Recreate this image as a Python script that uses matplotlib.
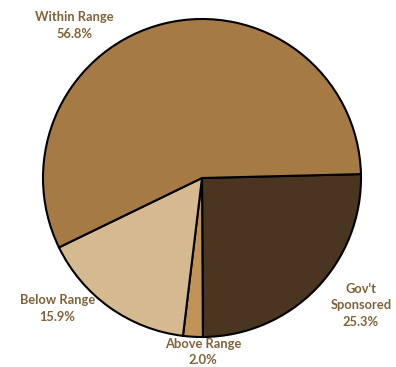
import matplotlib
matplotlib.use("Agg")
import matplotlib.pyplot as plt

categories = ["Gov't\nSponsored", "Above Range", "Below Range", "Within Range"]
values = [25.3, 2.0, 15.9, 56.8]
colors = ["#4A3620", "#C29358", "#D5B990", "#A57A45"]
# label anchor points in pie-radius units
label_pos = [(1.0, -0.80), (0.006, -1.094), (-0.91, -0.82), (-0.80, 0.96)]

W, H, DPI = 396, 367, 100
fig = plt.figure(figsize=(W / DPI, H / DPI), dpi=DPI)
cx, cy, r = 202, 178, 159
ax = fig.add_axes([(cx - r) / W, (H - cy - r) / H, 2 * r / W, 2 * r / H])

ax.pie(values, colors=colors, startangle=1.4, counterclock=False,
       wedgeprops=dict(edgecolor="black", linewidth=1.5))
ax.set_xlim(-1, 1)
ax.set_ylim(-1, 1)
ax.set_aspect("auto")
ax.axis("off")

for name, v, (x, y) in zip(categories, values, label_pos):
    ax.text(x, y, f"{name}\n{v:.1f}%", ha="center", va="center",
            fontsize=9.3, fontweight="bold", color="#7F6238",
            family="Lato", linespacing=1.45, clip_on=False)

fig.savefig("out.png", dpi=DPI)
